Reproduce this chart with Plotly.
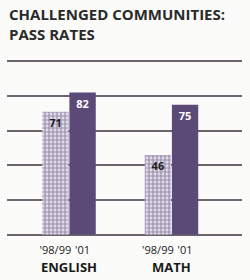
import plotly.graph_objects as go

subjects = ["ENGLISH", "MATH"]
years = ["'98/99", "'01"]
rates_9899 = [71, 46]
rates_01 = [82, 75]
title = "CHALLENGED COMMUNITIES:<br>PASS RATES"

group_pos = [0, 1]
bargap = 0.47
half = (1 - bargap) / 4  # center offset of each bar within group

fig = go.Figure()
fig.add_trace(go.Bar(
    x=group_pos, y=rates_9899, name=years[0],
    marker=dict(color="#ffffff",
                pattern=dict(shape=".", fgcolor="#5a4a7c", bgcolor="#f6f3f8", size=4, solidity=0.7),
                line=dict(width=0)),
    text=["<b>%d</b>" % v for v in rates_9899], textposition="inside", insidetextanchor="end",
    textfont=dict(family="Open Sans", size=11, color="#1e1e1e"),
))
fig.add_trace(go.Bar(
    x=group_pos, y=rates_01, name=years[1],
    marker=dict(color="#5b4a78", line=dict(width=0)),
    text=["<b>%d</b>" % v for v in rates_01], textposition="inside", insidetextanchor="end",
    textfont=dict(family="Open Sans", size=11, color="#ffffff"),
))

tickvals = []
ticktext = []
for g in group_pos:
    tickvals += [g - half, g + half]
    ticktext += years

for g, s in zip(group_pos, subjects):
    fig.add_annotation(x=g, y=0, yref="y", text="<b>" + s + "</b>", showarrow=False,
                       yshift=-32, font=dict(family="Open Sans", size=13, color="#1a1a1a"))

fig.add_annotation(x=0, xref="paper", xanchor="left", y=1, yref="paper", yanchor="bottom",
                   yshift=12, align="left", showarrow=False,
                   text="<b>" + title + "</b>",
                   font=dict(family="Open Sans", size=15, color="#2a2a2a"))

fig.update_layout(
    width=250, height=280,
    margin=dict(l=7, r=8, t=58, b=42),
    paper_bgcolor="#fbfbf9", plot_bgcolor="#fbfbf9",
    barmode="group", bargap=bargap, bargroupgap=0.03,
    showlegend=False,
    xaxis=dict(range=[-0.605, 1.688], tickvals=tickvals, ticktext=ticktext,
               showgrid=False, zeroline=False, showline=False,
               ticks="outside", ticklen=2, tickcolor="rgba(0,0,0,0)",
               tickfont=dict(family="Open Sans", size=11, color="#1a1a1a")),
    yaxis=dict(range=[-2, 102], tickvals=[0, 20, 40, 60, 80, 100], showticklabels=False,
               gridcolor="#6e6470", gridwidth=2, zeroline=False, showline=False),
)
fig.write_html("out.html")
